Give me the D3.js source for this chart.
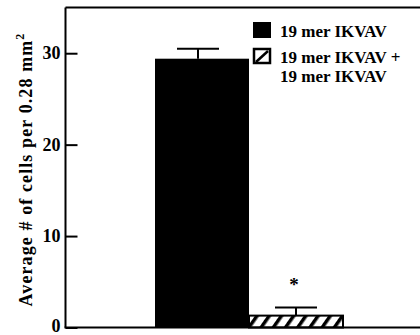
<!DOCTYPE html>
<html><head><meta charset="utf-8">
<script src="https://cdn.jsdelivr.net/npm/d3@7"></script>
<style>body{margin:0;background:#fff}svg{display:block}text{font-family:"Liberation Serif","Times New Roman",serif;font-weight:bold;fill:#000}</style>
</head><body><div id="c"></div>
<script>
const categories = ["19 mer IKVAV", "19 mer IKVAV + 19 mer IKVAV"];
const means = [29.4, 1.3];
const errors = [1.1, 0.9];
const yTicks = [0, 10, 20, 30];
const legendLines = [["19 mer IKVAV"], ["19 mer IKVAV +", "19 mer IKVAV"]];
const yLabel = "Average # of cells per 0.28 mm";

const W = 420, H = 335;
const svg = d3.select("#c").append("svg").attr("width", W).attr("height", H);
const defs = svg.append("defs");
const pat = defs.append("pattern").attr("id","hatch").attr("patternUnits","userSpaceOnUse")
  .attr("width",10).attr("height",10).attr("patternTransform","rotate(35)");
pat.append("rect").attr("width",10).attr("height",10).attr("fill","#fff");
pat.append("rect").attr("x",0).attr("y",0).attr("width",3.5).attr("height",10).attr("fill","#000");

const y = d3.scaleLinear().domain([0, 35]).range([327.5, 7.5]);
const x = d3.scaleBand().domain(categories).range([155, 343]).padding(0);
const left = 65.5;

// top frame line
svg.append("line").attr("x1",left).attr("x2",W).attr("y1",y(35)).attr("y2",y(35)).attr("stroke","#000").attr("stroke-width",2);

// bars
const fills = ["#000", "url(#hatch)"];
svg.selectAll("rect.bar").data(means).join("rect").attr("class","bar")
  .attr("x",(d,i)=>x(categories[i])).attr("width",x.bandwidth())
  .attr("y",d=>y(d)).attr("height",d=>y(0)-y(d))
  .attr("fill",(d,i)=>fills[i]).attr("stroke","#000").attr("stroke-width",(d,i)=>i?2:0);

// error bars
const capW = 42;
means.forEach((m,i)=>{
  const cx = x(categories[i]) + x.bandwidth()/2 - (i?0:4);
  svg.append("line").attr("x1",cx).attr("x2",cx).attr("y1",y(m)).attr("y2",y(m+errors[i])).attr("stroke","#000").attr("stroke-width",2);
  svg.append("line").attr("x1",cx-capW/2).attr("x2",cx+capW/2).attr("y1",y(m+errors[i])).attr("y2",y(m+errors[i])).attr("stroke","#000").attr("stroke-width",2);
});
// significance asterisk
svg.append("text").attr("x", x(categories[1]) + x.bandwidth()/2 - 2).attr("y", y(means[1]+errors[1]) - 16)
  .attr("text-anchor","middle").attr("font-size",19).text("*");

// y axis
const yAxis = d3.axisLeft(y).tickValues(yTicks).tickSize(-12).tickPadding(4).tickFormat(d3.format("d"));
const ga = svg.append("g").attr("transform",`translate(${left},0)`).call(yAxis);
ga.select(".domain").attr("stroke-width",2).attr("d",`M0,${y(35)}V${y(0)}`);
ga.selectAll(".tick line").attr("stroke-width",2);
ga.selectAll(".tick text").attr("font-size",18).attr("font-family","Liberation Serif").attr("font-weight","bold").attr("dx",-1)
  .attr("dy",(d)=> d===0 ? "0.2em" : "0.32em");
// x axis baseline
svg.append("line").attr("x1",left-1).attr("x2",W).attr("y1",y(0)).attr("y2",y(0)).attr("stroke","#000").attr("stroke-width",2);

// y label
const yl = svg.append("text").attr("transform",`translate(32,${(y(0)+y(35))/2+2}) rotate(-90)`)
  .attr("text-anchor","middle").attr("font-size",18).attr("letter-spacing",1.1);
yl.append("tspan").text(yLabel);
yl.append("tspan").attr("dy",-8).attr("font-size",12).text("2");

// legend
const lg = svg.append("g");
const lx = 253, ly = [22, 48];
lg.append("rect").attr("x",lx).attr("y",ly[0]).attr("width",18).attr("height",16).attr("fill","#000");
lg.append("rect").attr("x",lx+1).attr("y",ly[1]+1).attr("width",16).attr("height",14).attr("fill","#fff").attr("stroke","#000").attr("stroke-width",2.5);
lg.append("line").attr("x1",lx+3).attr("y1",ly[1]+14).attr("x2",lx+15).attr("y2",ly[1]+3).attr("stroke","#000").attr("stroke-width",2.5);
legendLines.forEach((lines,i)=>{
  lines.forEach((t,j)=>{
    lg.append("text").attr("x",280).attr("y",ly[i]+15+j*19).attr("font-size",17).text(t);
  });
});
</script></body></html>
